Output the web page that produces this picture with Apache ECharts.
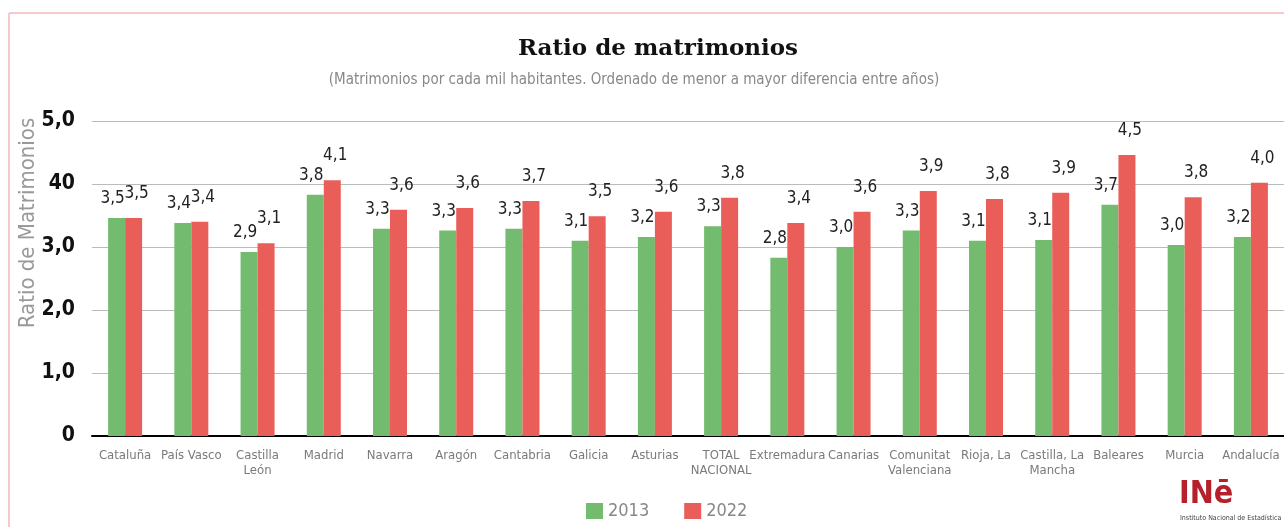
<!DOCTYPE html>
<html>
<head>
<meta charset="utf-8">
<title>Ratio de matrimonios</title>
<script src="https://cdn.jsdelivr.net/npm/echarts@6.0.0/dist/echarts.min.js"></script>
<style>
  html, body { margin: 0; padding: 0; background: #fff; }
  #chart { width: 1284px; height: 527px; }
</style>
</head>
<body>
<div id="chart"></div>
<script>
  // datos (ratio por cada mil habitantes)
  var categorias = ['Cataluña', 'País Vasco', 'Castilla\nLeón', 'Madrid', 'Navarra', 'Aragón',
    'Cantabria', 'Galicia', 'Asturias', 'TOTAL\nNACIONAL', 'Extremadura', 'Canarias',
    'Comunitat\nValenciana', 'Rioja, La', 'Castilla, La\nMancha', 'Baleares', 'Murcia', 'Andalucía'];
  var datos2013 = [3.46, 3.38, 2.92, 3.83, 3.29, 3.26, 3.29, 3.10, 3.16, 3.33, 2.83, 3.00, 3.26, 3.10, 3.11, 3.67, 3.03, 3.16];
  var datos2022 = [3.46, 3.40, 3.06, 4.06, 3.59, 3.62, 3.73, 3.49, 3.56, 3.78, 3.38, 3.56, 3.89, 3.76, 3.86, 4.46, 3.79, 4.02];
  var etiquetasY = ['0', '1,0', '2,0', '3,0', '40', '5,0'];
  var series = ['2013', '2022'];

  var fuente = '"Liberation Sans Narrow", "DejaVu Sans Condensed", "Roboto Condensed", "Liberation Sans", sans-serif';

  function coma(p) {
    return p.value.toFixed(1).replace('.', ',');
  }

  var myChart = echarts.init(document.getElementById('chart'));
  var option = {
    backgroundColor: '#fff',
    animation: false,
    title: [
      {
        text: 'Ratio de matrimonios',
        left: 653,
        top: 33,
        textAlign: 'center',
        textStyle: { fontFamily: '"DejaVu Serif", serif', fontWeight: 'bold', fontSize: 23, color: '#111' }
      },
      {
        text: '(Matrimonios por cada mil habitantes. Ordenado de menor a mayor diferencia entre años)',
        left: 629,
        top: 68,
        textAlign: 'center',
        textStyle: { fontFamily: fuente, fontWeight: 'normal', fontSize: 15, color: '#888' }
      }
    ],
    legend: {
      data: series,
      left: 581,
      top: 497,
      icon: 'rect',
      itemWidth: 17,
      itemHeight: 16,
      itemGap: 35,
      textStyle: { fontFamily: fuente, fontSize: 18, color: '#888' }
    },
    grid: {
      left: 92,
      right: 0,
      top: 121,
      bottom: 91
    },
    xAxis: {
      type: 'category',
      data: categorias,
      axisTick: { show: false },
      axisLine: { show: true, lineStyle: { color: '#000', width: 2 } },
      axisLabel: {
        interval: 0,
        margin: 12,
        fontFamily: fuente,
        fontSize: 13,
        lineHeight: 15,
        color: '#7a7a7a'
      }
    },
    yAxis: {
      type: 'value',
      min: 0,
      max: 5,
      interval: 1,
      axisLine: { show: false },
      axisTick: { show: false },
      splitLine: { lineStyle: { color: '#bbb', width: 1 } },
      axisLabel: {
        margin: 17,
        fontFamily: fuente,
        fontWeight: 'bold',
        fontSize: 21,
        color: '#111',
        formatter: function (v) { return etiquetasY[Math.round(v)]; }
      }
    },
    series: [
      {
        name: '2013',
        type: 'bar',
        data: datos2013,
        barWidth: 17,
        barGap: '0%',
        itemStyle: { color: '#73bb6e' },
        label: {
          show: true,
          position: 'top',
          distance: 11,
          offset: [-4, 0],
          formatter: coma,
          fontFamily: fuente,
          fontSize: 17,
          color: '#222'
        }
      },
      {
        name: '2022',
        type: 'bar',
        data: datos2022,
        barWidth: 17,
        barGap: '0%',
        itemStyle: { color: '#e95e58' },
        label: {
          show: true,
          position: 'top',
          distance: 16,
          offset: [3, 0],
          formatter: coma,
          fontFamily: fuente,
          fontSize: 17,
          color: '#222'
        }
      }
    ],
    graphic: [
      // marco rosa
      { type: 'line', shape: { x1: 9, y1: 13, x2: 1284, y2: 13 }, style: { stroke: '#f6caca', lineWidth: 2 } },
      { type: 'line', shape: { x1: 9, y1: 13, x2: 9, y2: 527 }, style: { stroke: '#f6caca', lineWidth: 2 } },
      // titulo del eje y
      {
        type: 'text',
        x: 28,
        y: 223,
        rotation: Math.PI / 2,
        style: {
          text: 'Ratio de Matrimonios',
          fill: '#999',
          font: '22px ' + fuente,
          align: 'center',
          verticalAlign: 'middle'
        }
      },
      // logo INE
      {
        type: 'text',
        left: 1179,
        top: 479,
        style: { text: 'INē', fill: '#b5202b', font: 'bold 32px ' + fuente }
      },
      {
        type: 'text',
        left: 1180,
        top: 515,
        style: { text: 'Instituto Nacional de Estadística', fill: '#444', font: '7px ' + fuente }
      }
    ]
  };
  myChart.setOption(option);
</script>
</body>
</html>
